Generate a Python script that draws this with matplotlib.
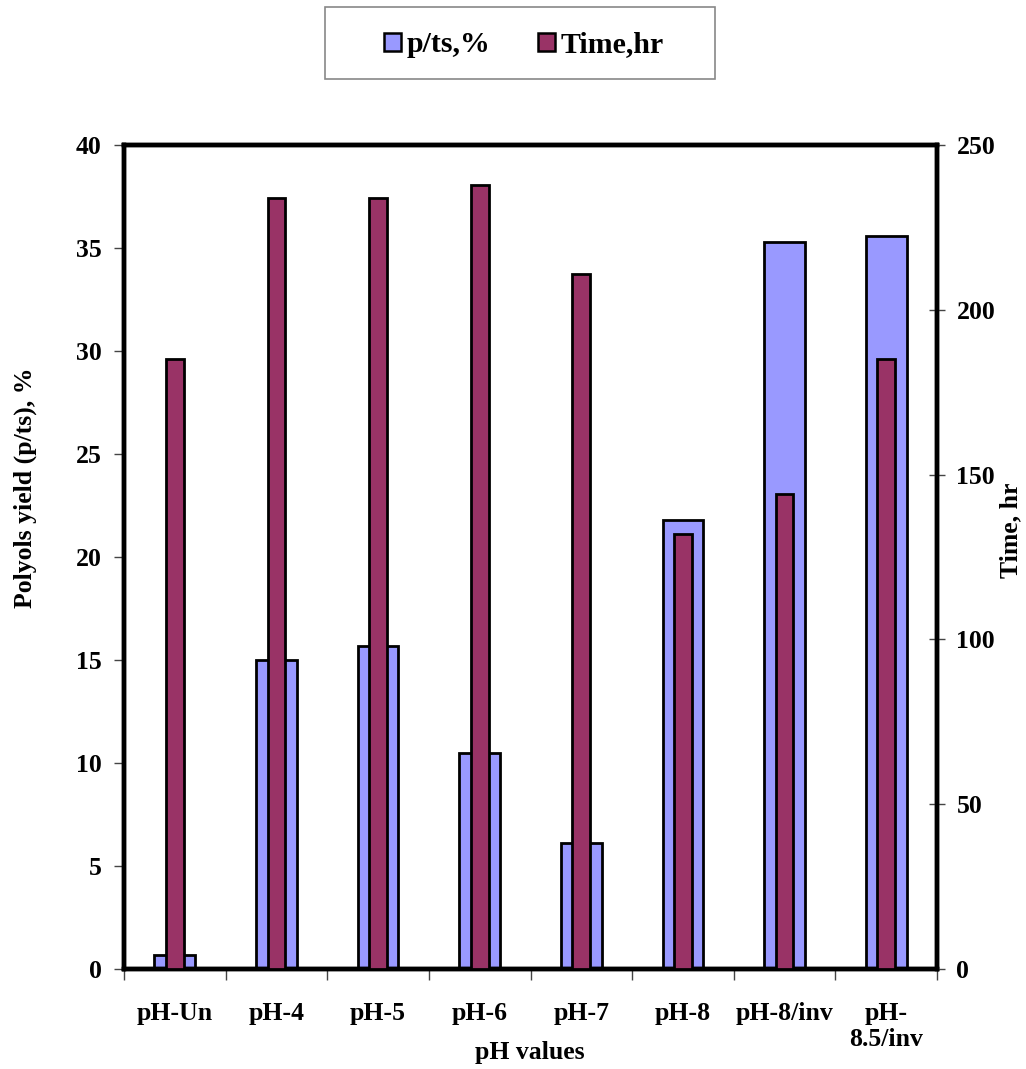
import matplotlib
matplotlib.use("Agg")
import matplotlib.pyplot as plt
from matplotlib.patches import Rectangle, Patch
import numpy as np

# Data
categories = ["pH-Un", "pH-4", "pH-5", "pH-6", "pH-7", "pH-8", "pH-8/inv", "pH-\n8.5/inv"]
yield_pts = [0.7, 15.0, 15.7, 10.5, 6.1, 21.8, 35.3, 35.6]      # p/ts, %
time_hr = [185, 234, 234, 238, 211, 132, 144, 185]                # Time, hr

plt.rcParams["font.family"] = ["Liberation Serif", "DejaVu Serif"]
plt.rcParams["font.weight"] = "bold"

BLUE = "#9999FF"
MAROON = "#993366"
FS = 18.5

W, H = 1026, 1069
fig = plt.figure(figsize=(W / 100, H / 100), dpi=100)
ax = fig.add_axes([124 / W, 100 / H, (937 - 124) / W, (969 - 145) / H])
ax2 = ax.twinx()

x = np.arange(len(categories))
ax.bar(x, yield_pts, width=0.40, color=BLUE, edgecolor="black", linewidth=2.0, zorder=2)
ax2.bar(x, time_hr, width=0.175, color=MAROON, edgecolor="black", linewidth=2.0, zorder=3)

ax.set_xlim(-0.5, len(categories) - 0.5)
ax.set_ylim(0, 40)
ax2.set_ylim(0, 250)
ax.set_yticks(np.arange(0, 41, 5))
ax2.set_yticks(np.arange(0, 251, 50))

# Category labels centered, tick marks at category boundaries
ax.set_xticks(x)
ax.set_xticklabels(categories, fontsize=FS, fontweight="bold", linespacing=1.15, va="top")
ax.tick_params(axis="x", which="major", length=0, pad=24)
ax.set_xticks(np.arange(-0.5, len(categories), 1.0), minor=True)
ax.tick_params(axis="x", which="minor", length=8, width=1.0, direction="out", color="#444444")

ax.tick_params(axis="y", which="major", length=7, width=1.0, direction="out", labelsize=FS,
               pad=9, color="#444444")
ax2.tick_params(axis="y", which="major", length=12, width=1.0, direction="inout", labelsize=FS,
                pad=8, color="#444444")
for lbl in ax.get_yticklabels() + ax2.get_yticklabels():
    lbl.set_fontweight("bold")

for a in (ax, ax2):
    for s in a.spines.values():
        s.set_linewidth(3.2)
        s.set_color("black")

# Axis titles
fig.text(25 / W, 1 - 488 / H, "Polyols yield (p/ts), %", rotation=90, ha="center", va="center",
         fontsize=FS, fontweight="bold")
fig.text(1011 / W, 1 - 530 / H, "Time, hr", rotation=90, ha="center", va="center",
         fontsize=FS, fontweight="bold")
fig.text(530 / W, 1 - 1052 / H, "pH values", ha="center", va="center",
         fontsize=FS, fontweight="bold")

# Legend with a plain rectangular frame
fig.patches.append(Rectangle((325 / W, 1 - 79 / H), 390 / W, 72 / H,
                             transform=fig.transFigure, facecolor="white",
                             edgecolor="#888888", linewidth=1.2, zorder=0))
handles = [Patch(facecolor=BLUE, edgecolor="black", linewidth=1.8, label="p/ts,%"),
           Patch(facecolor=MAROON, edgecolor="black", linewidth=1.8, label="Time,hr")]
fig.legend(handles=handles, loc="center", bbox_to_anchor=(524 / W, 1 - 45 / H),
           ncol=2, frameon=False, prop={"size": 21.5, "weight": "bold"},
           handlelength=0.55, handleheight=0.55, handletextpad=0.2, columnspacing=1.6)

fig.savefig("out.png", dpi=100, facecolor="white")
